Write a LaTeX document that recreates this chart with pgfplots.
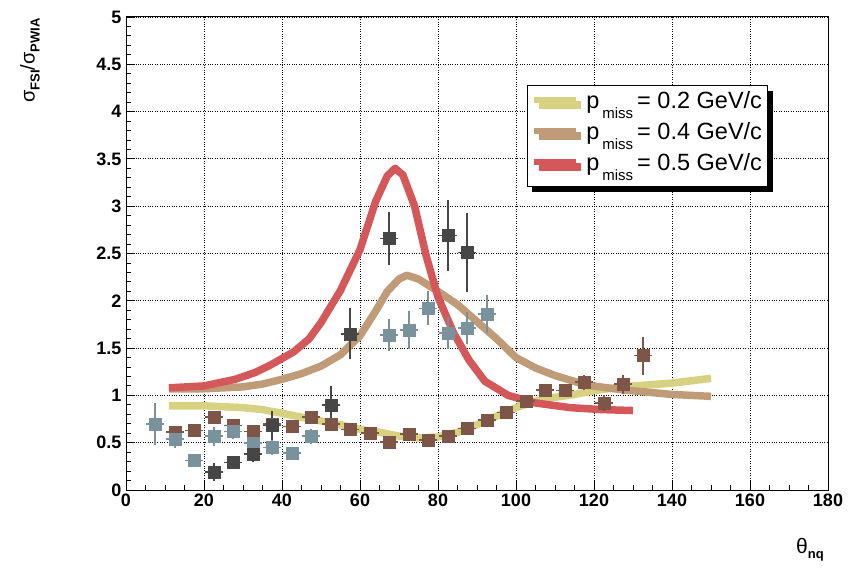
\documentclass[border=0pt]{standalone}
\usepackage{pgfplots}
\pgfplotsset{compat=1.18}
\usepackage{pgfplotstable}
\usepackage{fontspec}
\setmainfont{Liberation Sans}
\usetikzlibrary{shadows}
\definecolor{cyel}{RGB}{214,210,130}
\definecolor{ctan}{RGB}{192,155,120}
\definecolor{cred}{RGB}{212,88,90}
\definecolor{cbrown}{RGB}{125,86,72}
\definecolor{cblue}{RGB}{122,146,156}
\definecolor{cdark}{RGB}{70,70,70}

\pgfplotstableread{
x y ex ey
12.5 0.61 2.3 0.05
17.5 0.63 2.3 0.05
22.5 0.77 2.3 0.06
27.5 0.68 2.3 0.06
32.5 0.62 2.3 0.06
37.5 0.70 2.3 0.06
42.5 0.67 2.3 0.06
47.5 0.77 2.3 0.06
52.5 0.70 2.3 0.06
57.5 0.64 2.3 0.05
62.5 0.60 2.3 0.05
67.5 0.51 2.3 0.05
72.5 0.59 2.3 0.05
77.5 0.53 2.3 0.05
82.5 0.57 2.3 0.05
87.5 0.65 2.3 0.05
92.5 0.74 2.3 0.05
97.5 0.82 2.3 0.05
102.5 0.94 2.3 0.05
107.5 1.06 2.3 0.06
112.5 1.05 2.3 0.06
117.5 1.14 2.3 0.08
122.5 0.92 2.3 0.08
127.5 1.12 2.3 0.10
132.5 1.42 2.3 0.20
}\brownpts

\pgfplotstableread{
x y ex ey
7.5 0.70 2.3 0.22
12.5 0.54 2.3 0.10
17.5 0.31 2.3 0.06
22.5 0.57 2.3 0.10
27.5 0.62 2.3 0.08
32.5 0.50 2.3 0.10
37.5 0.45 2.3 0.08
42.5 0.39 2.3 0.06
47.5 0.57 2.3 0.08
67.5 1.64 2.3 0.17
72.5 1.69 2.3 0.20
77.5 1.92 2.3 0.18
82.5 1.66 2.3 0.17
87.5 1.71 2.3 0.17
92.5 1.86 2.3 0.20
}\bluepts

\pgfplotstableread{
x y ex ey
22.5 0.19 2.3 0.10
27.5 0.29 2.3 0.06
32.5 0.38 2.3 0.08
37.5 0.68 2.3 0.15
52.5 0.90 2.3 0.20
57.5 1.65 2.3 0.27
67.5 2.66 2.3 0.28
82.5 2.69 2.3 0.38
87.5 2.51 2.3 0.42
}\darkpts

\newcommand{\pmiss}{\hspace{5pt}p\hspace{3pt}\raisebox{-10pt}{\fontsize{15}{15}\selectfont miss}\hspace{4pt}}
\begin{document}
\begin{tikzpicture}
\path[use as bounding box] (0,0) rectangle (865pt,571pt);
\begin{axis}[
  at={(126pt,81pt)}, anchor=south west,
  width=702pt, height=473pt, scale only axis,
  xmin=0, xmax=180, ymin=0, ymax=5,
  xtick={0,20,...,180}, ytick={0,0.5,...,5},
  minor x tick num=3, minor y tick num=4,
  tick align=inside, xtick pos=bottom, ytick pos=left,
  major tick length=9pt, minor tick length=5pt,
  tick style={black, line width=0.9pt},
  grid=major, major grid style={black, dotted, line width=0.9pt},
  axis line style={black, line width=1pt},
  /pgf/number format/assume math mode=true,
  ticklabel style={font=\fontsize{18}{20}\selectfont\bfseries},
  yticklabel style={xshift=-1pt},
  legend style={at={(rel axis cs:0.571,0.856)}, anchor=north west,
    draw=black, line width=1pt, fill=white,
    drop shadow={shadow xshift=5pt, shadow yshift=-5pt, opacity=1, fill=black},
    font=\fontsize{23.5}{25}\selectfont, row sep=0pt, inner xsep=4pt, inner ysep=4pt,
    nodes={inner sep=2pt, text depth=10pt}},
  legend cell align=left,
  legend image code/.code={\draw[#1, line width=6pt] (0pt,5pt) -- (42pt,5pt);},
]
\addplot[cyel, line width=7.5pt, line join=round] coordinates {
(11,0.89) (20,0.89) (30,0.87) (35,0.85) (40,0.81) (45,0.77) (50,0.73) (55,0.69)
(60,0.64) (65,0.61) (70,0.57) (75,0.55) (80,0.56) (85,0.61) (90,0.69) (95,0.78)
(100,0.87) (105,0.94) (110,0.98) (115,1.01) (120,1.05) (127,1.09) (140,1.13) (150,1.18)};
\addlegendentry{\pmiss= 0.2 GeV/c}
\addplot[ctan, line width=7.5pt, line join=round] coordinates {
(11,1.07) (20,1.07) (30,1.09) (35,1.12) (40,1.17) (45,1.23) (50,1.31) (55,1.43)
(60,1.63) (64,1.89) (67,2.10) (70,2.23) (72,2.27) (75,2.23) (80,2.10) (85,1.96)
(90,1.78) (95,1.60) (100,1.40) (105,1.29) (110,1.21) (118,1.11) (127,1.06) (140,1.01) (150,0.99)};
\addlegendentry{\pmiss= 0.4 GeV/c}
\addplot[cred, line width=7.5pt, line join=round] coordinates {
(11,1.08) (20,1.10) (28,1.17) (33,1.24) (37,1.32) (43,1.46) (47,1.60) (50,1.77)
(55,2.11) (60,2.54) (64,3.05) (67,3.32) (69,3.40) (71,3.33) (74,3.00) (77,2.47)
(80,2.04) (84,1.66) (88,1.37) (92,1.15) (98,1.00) (105,0.92) (114,0.87) (122,0.85) (130,0.84)};
\addlegendentry{\pmiss= 0.5 GeV/c}

\addplot[forget plot, only marks, mark=square*, mark size=6pt, cbrown,
  error bars/.cd, x dir=both, x explicit, y dir=both, y explicit,
  error mark=none, error bar style={line width=1.6pt, cbrown}]
  table[x=x, y=y, x error=ex, y error=ey] {\brownpts};
\addplot[forget plot, only marks, mark=square*, mark size=6pt, cblue,
  error bars/.cd, x dir=both, x explicit, y dir=both, y explicit,
  error mark=none, error bar style={line width=1.6pt, cblue}]
  table[x=x, y=y, x error=ex, y error=ey] {\bluepts};
\addplot[forget plot, only marks, mark=square*, mark size=6pt, cdark,
  error bars/.cd, x dir=both, x explicit, y dir=both, y explicit,
  error mark=none, error bar style={line width=1.6pt, cdark}]
  table[x=x, y=y, x error=ex, y error=ey] {\darkpts};
\end{axis}
\node[anchor=center] at (810pt,21pt) {\fontsize{21}{22}\selectfont θ\raisebox{-5pt}{\fontsize{13}{13}\selectfont\bfseries nq}};
\node[rotate=90, anchor=east] at (30pt,556pt) {\fontsize{20}{22}\selectfont σ\raisebox{-5pt}{\fontsize{13}{13}\selectfont\bfseries FSI}/σ\raisebox{-5pt}{\fontsize{13}{13}\selectfont\bfseries PWIA}};
\end{tikzpicture}
\end{document}
